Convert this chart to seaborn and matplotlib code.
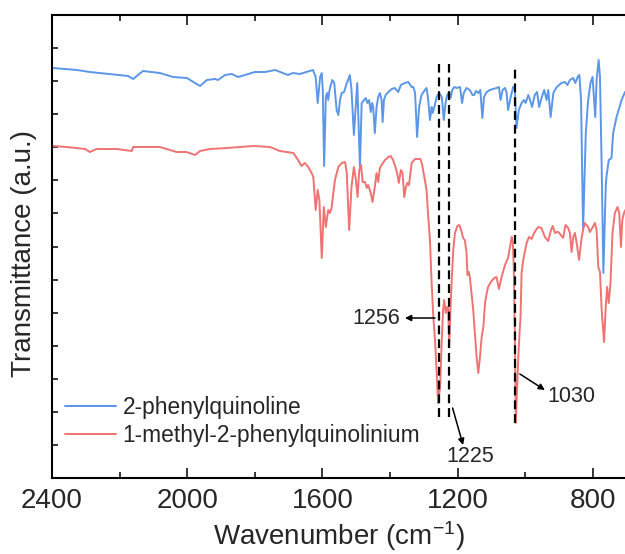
import numpy as np
import pandas as pd
import matplotlib
matplotlib.use("Agg")
import matplotlib.pyplot as plt
import seaborn as sns

# ---- data (wavenumber cm-1, transmittance a.u.) ----
blue_wn = [2397, 2326, 2288, 2175, 2160, 2131, 2081, 2042, 2001, 1977, 1962, 1942, 1918, 1909,
           1888, 1868, 1850, 1829, 1800, 1770, 1740, 1717, 1702, 1687, 1667, 1628, 1620, 1614,
           1607, 1602, 1599, 1595, 1590, 1586, 1583, 1579, 1571, 1565, 1558, 1553, 1548, 1543,
           1536, 1528, 1524, 1519, 1514, 1507, 1497, 1489, 1484, 1477, 1472, 1467, 1462, 1457,
           1453, 1450, 1445, 1440, 1435, 1430, 1425, 1422, 1418, 1413, 1405, 1395, 1386, 1376,
           1368, 1356, 1346, 1336, 1331, 1326, 1320, 1314, 1307, 1297, 1292, 1287, 1282, 1277,
           1274, 1269, 1262, 1255, 1247, 1241, 1236, 1231, 1225, 1221, 1216, 1210, 1203, 1193,
           1187, 1182, 1174, 1164, 1156, 1151, 1146, 1139, 1133, 1127, 1122, 1114, 1105, 1095,
           1085, 1078, 1073, 1067, 1060, 1055, 1051, 1043, 1036, 1031, 1026, 1019, 1011, 1004,
           999, 991, 986, 980, 972, 965, 959, 952, 944, 937, 932, 925, 917, 907, 893, 883, 875,
           868, 858, 852, 845, 840, 835, 829, 821, 814, 807, 801, 797, 793, 789, 783, 779, 774,
           769, 762, 760, 753, 745, 740, 730, 715, 705]
blue_t = [410, 408, 406, 402, 399, 407, 405, 401, 400, 395, 392, 398, 399, 398,
          403, 404, 401, 403, 406, 406, 408, 405, 403, 405, 404, 408, 401, 375,
          401, 405, 388, 312, 381, 385, 378, 388, 398, 395, 368, 363, 378, 385,
          386, 395, 398, 403, 388, 343, 395, 311, 375, 378, 380, 375, 378, 366,
          375, 371, 345, 371, 381, 385, 378, 356, 378, 383, 386, 389, 390, 386,
          393, 395, 396, 391, 391, 385, 341, 371, 383, 388, 390, 378, 358, 371,
          365, 371, 381, 385, 381, 358, 375, 383, 386, 380, 388, 391, 390, 391,
          375, 385, 390, 388, 383, 383, 387, 385, 388, 360, 381, 386, 388, 389,
          390, 391, 378, 388, 390, 385, 368, 381, 391, 391, 350, 368, 375, 378,
          375, 383, 378, 371, 383, 386, 371, 380, 388, 378, 388, 361, 385, 391, 395, 396, 393,
          398, 400, 395, 401, 403, 378, 248, 345, 378, 395, 401, 381, 361, 398, 418, 401, 311,
          205, 291, 301, 318, 320, 345, 361, 378, 386]

red_wn = [2396, 2357, 2302, 2288, 2268, 2209, 2164, 2160, 2130, 2081, 2031, 2002, 1977, 1962,
          1933, 1883, 1844, 1805, 1755, 1726, 1706, 1686, 1672, 1662, 1652, 1642, 1632, 1627,
          1620, 1614, 1609, 1602, 1596, 1590, 1583, 1578, 1573, 1563, 1553, 1543, 1533, 1528,
          1521, 1514, 1507, 1501, 1496, 1491, 1486, 1481, 1474, 1469, 1465, 1457, 1452, 1445,
          1440, 1435, 1430, 1425, 1415, 1405, 1398, 1391, 1384, 1379, 1374, 1368, 1363, 1358,
          1353, 1349, 1344, 1336, 1326, 1317, 1310, 1305, 1297, 1292, 1287, 1282, 1277, 1272,
          1267, 1262, 1258, 1252, 1247, 1243, 1240, 1235, 1232, 1228, 1225, 1221, 1218, 1213,
          1208, 1201, 1195, 1188, 1184, 1179, 1174, 1171, 1167, 1164, 1159, 1154, 1149, 1144,
          1139, 1134, 1129, 1124, 1119, 1114, 1110, 1102, 1092, 1085, 1078, 1070, 1060, 1051,
          1040, 1037, 1034, 1031, 1028, 1021, 1017, 1014, 1011, 1006, 996, 989, 981, 974, 962,
          952, 942, 932, 924, 919, 912, 907, 902, 895, 888, 881, 873, 868, 863, 858, 853, 848,
          841, 833, 829, 824, 814, 809, 802, 794, 789, 784, 779, 774, 767, 762, 758, 753, 748,
          742, 735, 727, 722, 717, 713, 708, 704]
red_t = [332, 331, 329, 326, 329, 329, 327, 331, 331, 331, 326, 326, 323, 327,
         329, 330, 331, 332, 331, 327, 326, 325, 318, 312, 315, 311, 305, 301,
         268, 288, 278, 220, 271, 251, 268, 265, 270, 298, 311, 315, 316, 305,
         248, 291, 311, 298, 281, 308, 313, 296, 296, 290, 293, 285, 276, 291,
         305, 296, 310, 313, 318, 321, 322, 318, 311, 305, 295, 308, 305, 281,
         291, 295, 293, 315, 319, 319, 319, 313, 298, 288, 261, 238, 195, 161,
         138, 105, 75, 91, 138, 168, 178, 165, 171, 170, 131, 171, 195, 228,
         245, 252, 253, 246, 240, 238, 226, 203, 206, 201, 185, 168, 145, 121,
         105, 121, 141, 151, 175, 185, 191, 196, 200, 201, 189, 201, 213, 220,
         241, 236, 211, 145, 55, 118, 145, 161, 205, 218, 235, 241, 239, 245, 251,
         250, 241, 237, 248, 252, 245, 246, 246, 243, 240, 253, 250, 245, 226, 241, 245, 235,
         218, 241, 248, 255, 251, 246, 250, 255, 248, 211, 206, 168, 136, 171, 191, 175, 195,
         245, 265, 271, 265, 231, 258, 265, 268]

series_names = ["2-phenylquinoline", "1-methyl-2-phenylquinolinium"]
marked_peaks = [1256, 1225, 1030]
peak_labels = ["1256", "1225", "1030"]
x_ticks = [2400, 2000, 1600, 1200, 800]

df = pd.concat([
    pd.DataFrame({"wn": blue_wn, "T": blue_t, "sample": series_names[0]}),
    pd.DataFrame({"wn": red_wn, "T": red_t, "sample": series_names[1]}),
])

sns.set_style("ticks")
plt.rcParams["font.family"] = ["Liberation Sans", "DejaVu Sans"]
plt.rcParams["mathtext.fontset"] = "custom"
plt.rcParams["mathtext.rm"] = "Liberation Sans"
plt.rcParams["mathtext.it"] = "Liberation Sans:italic"

fig = plt.figure(figsize=(6.25, 5.54), dpi=100)
ax = fig.add_axes([52 / 625, 76 / 554, 573 / 625, 463 / 554])

palette = {series_names[0]: "#5b96e8", series_names[1]: "#f07272"}
sns.lineplot(data=df, x="wn", y="T", hue="sample", palette=palette,
             estimator=None, lw=1.4, ax=ax, legend=True)

ax.set_xlim(2400, 705)
ax.set_ylim(0, 463)

# dashed marker lines
vl_lo = [61, 61, 55]
vl_hi = [414, 414, 411]
for wn, lo, hi in zip(marked_peaks, vl_lo, vl_hi):
    ax.plot([wn, wn], [lo, hi], color="black", lw=1.6, ls=(0, (4.0, 2.2)), zorder=5)

# annotations
arrow_kw = dict(arrowstyle="-|>", color="black", lw=1.1, mutation_scale=9,
                shrinkA=0, shrinkB=0)
ax.annotate("", xy=(1356, 160), xytext=(1267, 160), arrowprops=arrow_kw)
ax.annotate("", xy=(1184, 33), xytext=(1215, 70), arrowprops=arrow_kw)
ax.annotate("", xy=(942, 88), xytext=(1016, 104), arrowprops=arrow_kw)
ax.text(1371, 160, peak_labels[0], ha="right", va="center", fontsize=15.5)
ax.text(1164, 21, peak_labels[1], ha="center", va="center", fontsize=15.5)
ax.text(936, 82, peak_labels[2], ha="left", va="center", fontsize=15.5)

# axes styling
ax.set_xticks(x_ticks)
ax.set_xticks([2200, 1800, 1400, 1000], minor=True)
ax.set_xticklabels([str(t) for t in x_ticks])
ax.set_yticks(np.linspace(0, 463, 15))
ax.set_yticklabels([])
ax.tick_params(axis="x", which="major", direction="in", length=7, width=1.3,
               top=True, labelsize=20, pad=7)
ax.tick_params(axis="x", which="minor", direction="in", length=4, width=1.3, top=True)
ax.tick_params(axis="y", which="major", direction="in", length=4, width=1.3, left=True)
for s in ["left", "top", "bottom"]:
    ax.spines[s].set_linewidth(1.5)
    ax.spines[s].set_color("black")
ax.spines["right"].set_visible(False)

ax.set_xlabel("Wavenumber (cm$^{\\mathregular{-1}}$)", fontsize=20, labelpad=4)
ax.set_ylabel("Transmittance (a.u.)", fontsize=20)
ax.yaxis.set_label_coords(-0.026, 0.485)

leg = ax.legend(loc="upper left", bbox_to_anchor=(0.0227, 0.177), frameon=False,
                fontsize=16.4, handlelength=2.22, handletextpad=0.3, borderpad=0,
                borderaxespad=0, labelspacing=0.2)
for h in leg.get_lines():
    h.set_linewidth(1.4)

fig.savefig("out.png", dpi=100)
